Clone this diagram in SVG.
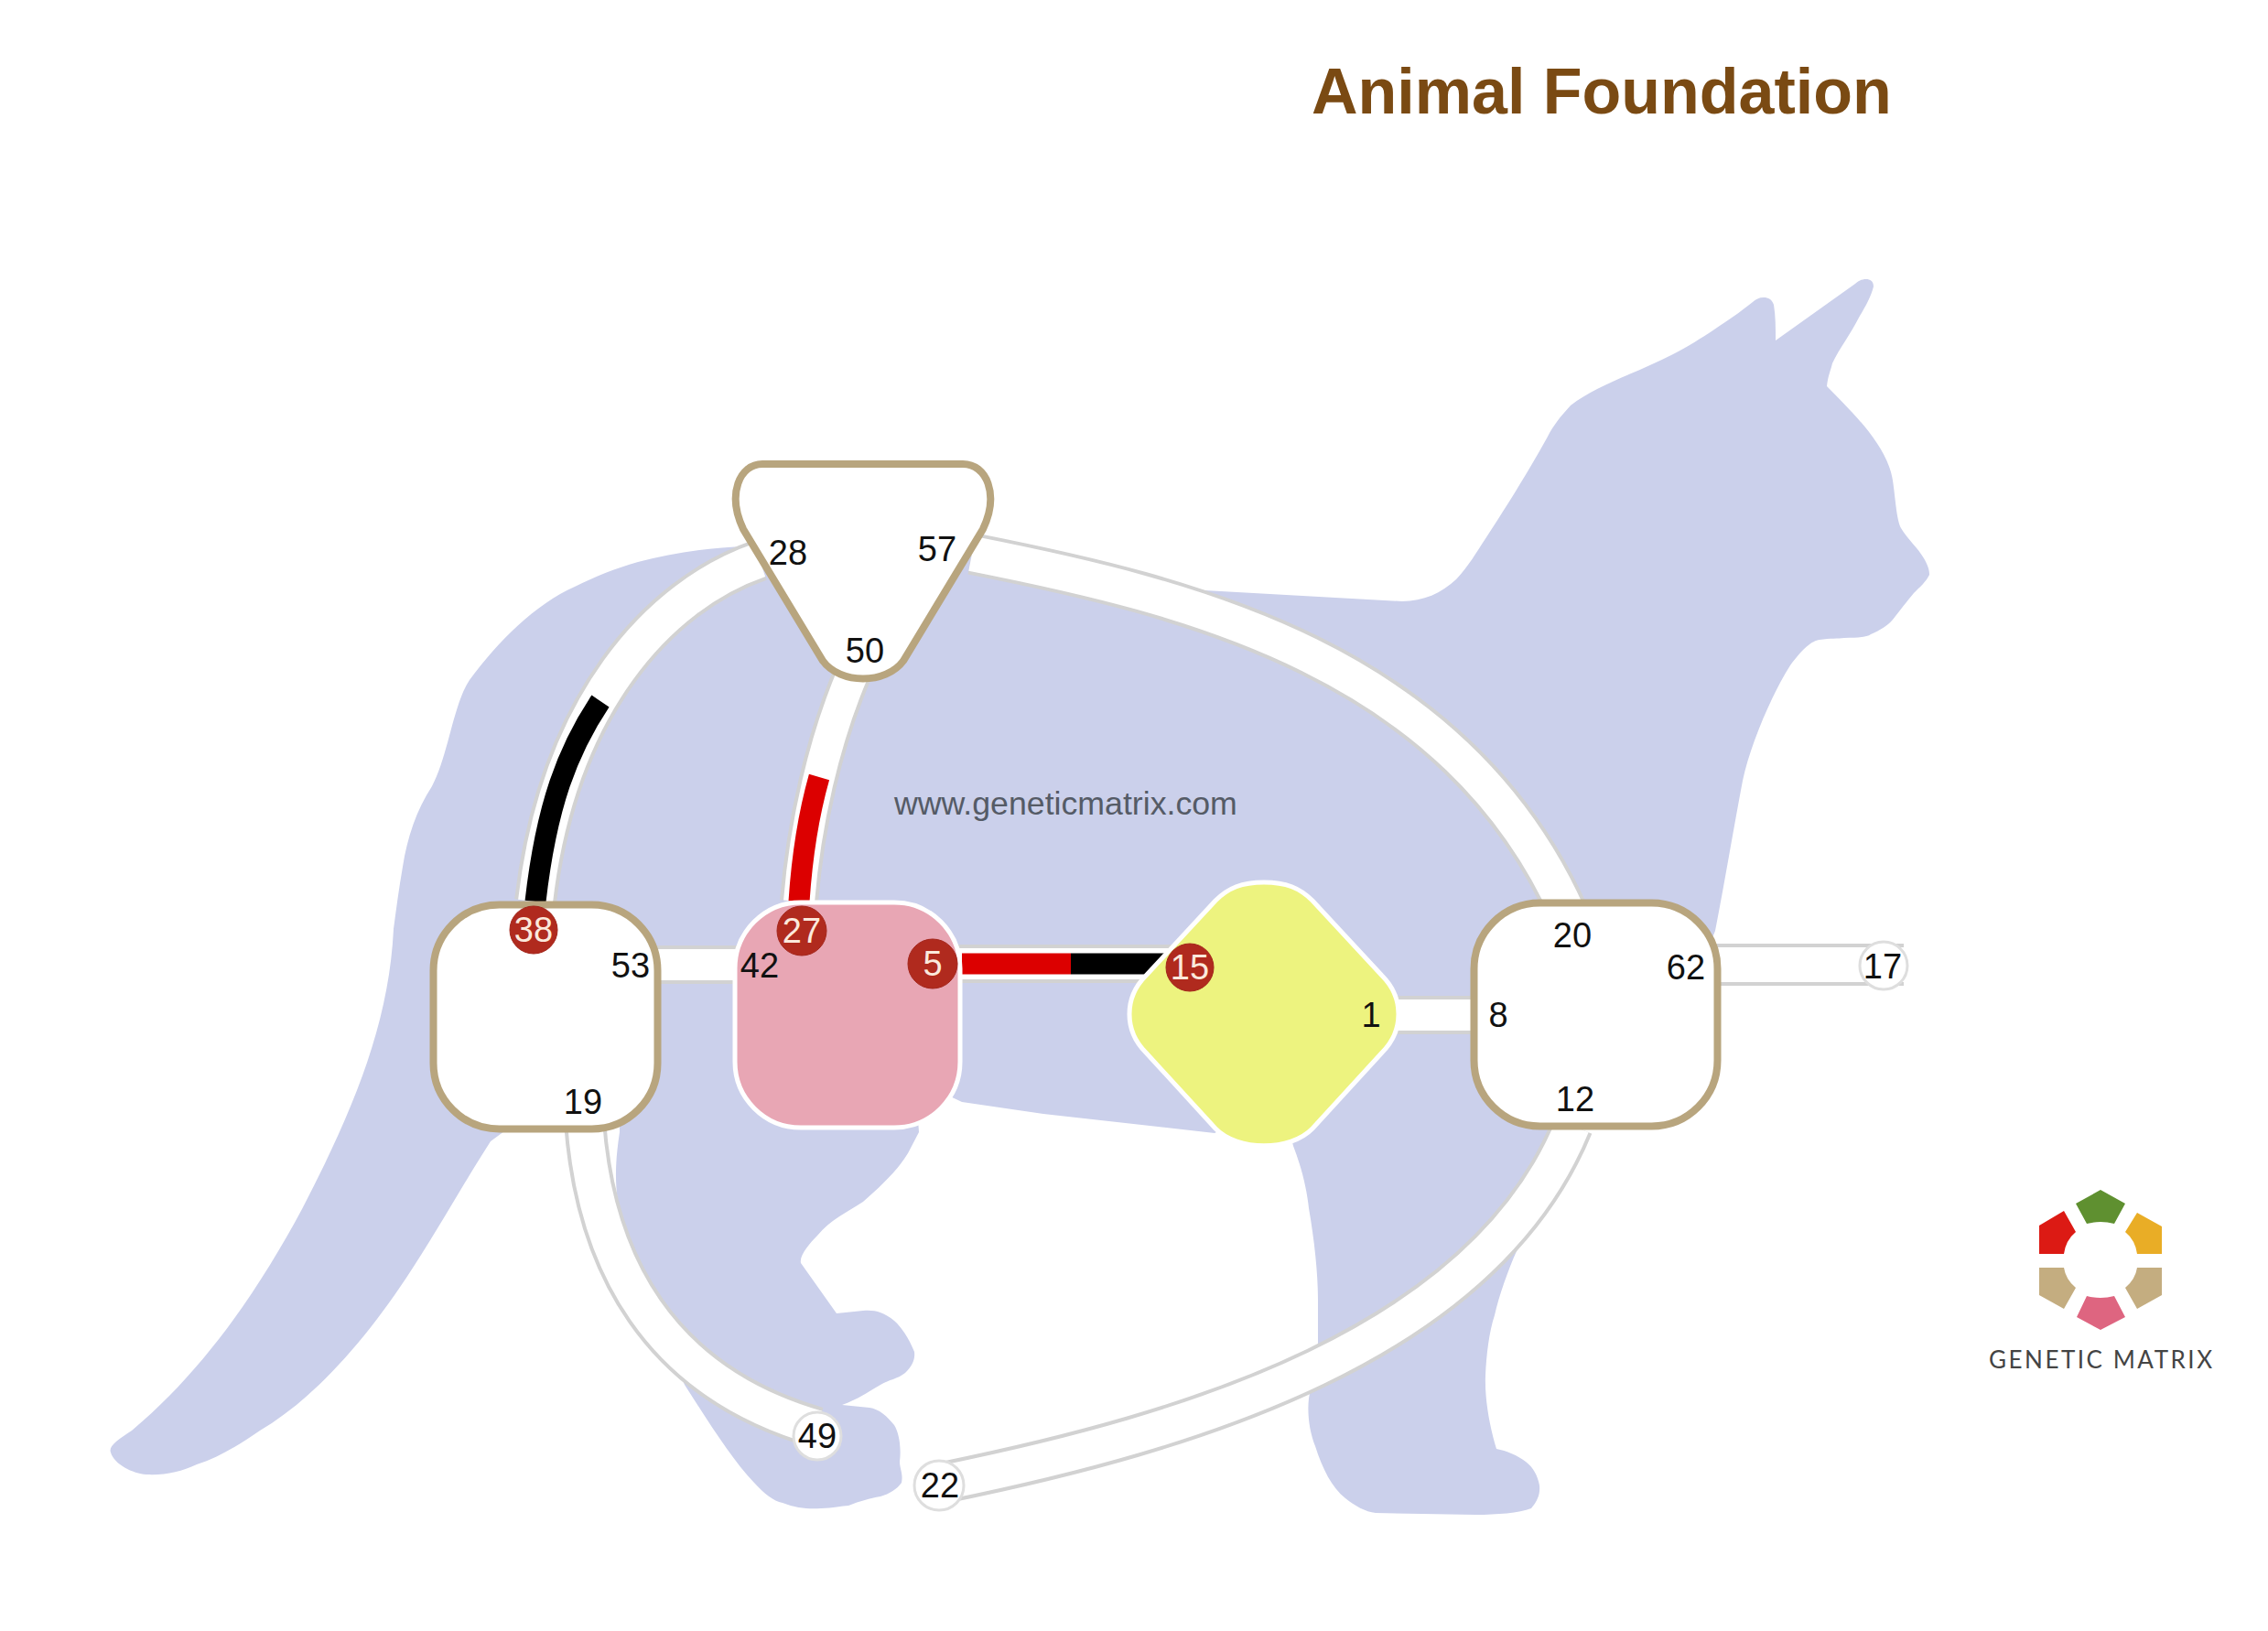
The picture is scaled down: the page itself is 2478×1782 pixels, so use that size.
<svg xmlns="http://www.w3.org/2000/svg" width="2478" height="1782" viewBox="0 0 2478 1782">
<style>
text{font-family:"Liberation Sans",Arial,sans-serif}
.n{font-size:38px;fill:#111;text-anchor:middle}
.d{font-size:38px;fill:#FBE9DC;text-anchor:middle}
.dot{fill:#B02A1E;stroke:#A3261B;stroke-width:1}
.pin{fill:#fff;stroke:#DEDEDE;stroke-width:3}
.box{fill:#fff;stroke:#B8A57E;stroke-width:8}
.e{fill:none;stroke:#D2D2D2;stroke-width:46}
.w{fill:none;stroke:#fff;stroke-width:38}
.e2{fill:none;stroke:#D2D2D2;stroke-width:42}
.w2{fill:none;stroke:#fff;stroke-width:34}
.p{fill:none;stroke-width:23}
.red{stroke:#DC0000}
.blk{stroke:#000}
</style>
<path id="cat" fill="#CBD0EB" d="M816,597 C775,598 735,604 697,614 C672,621 650,630 628,641 C585,660 545,700 513,743 C495,770 490,825 472,859 C455,885 445,915 440,947 C436,970 433,992 430,1015 C425,1120 385,1215 330,1321 C285,1405 225,1495 144,1563 C130,1572 118,1580 121,1587 C125,1600 145,1610 160,1611 C180,1612 198,1608 215,1600 C240,1592 262,1578 284,1563 C340,1530 395,1470 444,1396 C475,1350 505,1295 536,1247 L600,1200 L677,1200 L677,1237 C672,1270 672,1290 675,1313 C680,1345 688,1375 700,1400 L748,1513 C775,1555 800,1595 824,1620 C835,1632 845,1640 855,1642 C870,1648 885,1649 897,1648 C910,1648 920,1645 927,1645 C940,1640 950,1637 962,1635 C972,1632 980,1627 985,1620 C987,1610 983,1605 983,1597 C985,1580 982,1565 977,1557 C970,1548 960,1539 950,1538 L920,1535 C935,1530 950,1520 962,1513 C972,1507 980,1507 989,1500 C997,1492 1000,1485 999,1477 C993,1462 985,1450 977,1443 C965,1433 955,1431 943,1432 L914,1435 L875,1380 C873,1372 885,1358 893,1350 C908,1332 925,1325 943,1313 C960,1298 980,1280 992,1260 L1004,1237 L1000,1180 L1051,1204 L1140,1217 L1327,1238 L1400,1200 L1413,1252 C1422,1275 1428,1300 1430,1320 C1436,1355 1440,1390 1440,1420 L1440,1470 L1430,1528 C1428,1545 1431,1565 1437,1580 C1445,1605 1455,1625 1470,1637 C1480,1645 1492,1652 1503,1653 L1613,1655 C1635,1655 1660,1653 1673,1648 C1680,1640 1683,1632 1682,1623 C1680,1612 1675,1603 1667,1597 C1658,1590 1646,1585 1635,1583 C1628,1560 1622,1530 1623,1503 C1624,1480 1627,1455 1633,1437 C1638,1415 1648,1387 1657,1367 L1690,1280 L1720,1230 L1800,1200 L1874,1017 C1885,960 1895,900 1904,853 C1912,815 1935,760 1956,727 C1970,708 1980,700 1988,699 C2000,697 2008,698 2015,697 C2030,697 2040,696 2044,693 C2055,688 2062,684 2068,677 C2075,668 2085,655 2091,648 C2097,642 2105,635 2108,628 C2108,622 2106,617 2102,610 C2095,598 2085,590 2077,577 C2072,567 2071,545 2068,525 C2062,485 2020,447 1996,422 C1997,412 2000,405 2002,397 C2010,380 2022,365 2031,347 C2038,335 2044,325 2047,313 C2047,307 2043,305 2039,305 C2034,305 2030,307 2027,310 L1940,372 C1940,358 1940,345 1938,333 C1936,327 1932,325 1927,325 C1922,325 1918,327 1915,330 C1900,342 1888,350 1873,360 C1858,370 1845,378 1828,387 C1790,407 1745,420 1716,443 C1705,455 1697,465 1691,477 C1670,515 1645,555 1624,587 C1612,605 1605,618 1591,633 C1575,648 1555,657 1532,657 L1316,645 L1300,662 L1060,606 L940,600 Z"/>
<g id="connectors">
<path class="e" d="M830,612 C720,650 610,770 585,985"/>
<path class="w" d="M830,612 C720,650 610,770 585,985"/>
<path class="p blk" d="M585,985 C597,880 620,820 656,766"/>
<path class="e2" d="M932,735 C900,810 880,900 873,985"/>
<path class="w2" d="M932,735 C900,810 880,900 873,985"/>
<path class="p red" d="M873,985 C876,940 882,895 895,849"/>
<path class="e" d="M1062,605 C1300,652 1590,722 1714,1000"/>
<path class="w" d="M1062,605 C1300,652 1590,722 1714,1000"/>
<path class="e2" d="M715,1054 H810"/>
<path class="w2" d="M715,1054 H810"/>
<path class="e2" d="M1045,1053 H1285"/>
<path class="w2" d="M1045,1053 H1285"/>
<path class="p red" d="M1051,1053 H1170"/>
<path class="p blk" d="M1170,1053 H1285"/>
<path class="e2" d="M1520,1109 H1612"/>
<path class="w2" d="M1520,1109 H1612"/>
<path class="e" d="M1875,1054 H2080"/>
<path class="w" d="M1875,1054 H2080"/>
<path class="e" d="M639,1225 C650,1380 720,1510 893,1560"/>
<path class="w" d="M639,1225 C650,1380 720,1510 893,1560"/>
<path class="e" d="M1030,1620 C1300,1565 1620,1470 1718,1230"/>
<path class="w" d="M1030,1620 C1300,1565 1620,1470 1718,1230"/>
</g>
<g id="node-triangle">
<path class="box" d="M833,507 L1052,507 C1078,507 1092,540 1074,578 L987,722 C968,748 918,748 899,722 L812,578 C794,540 808,507 833,507Z"/>
<text class="n" x="861" y="617">28</text>
<text class="n" x="1024" y="613">57</text>
<text class="n" x="945" y="724">50</text>
</g>
<g id="node-left">
<rect class="box" x="473.500" y="988.500" width="245" height="245" rx="72"/>
<circle class="dot" cx="583" cy="1016" r="26"/>
<text class="d" x="583" y="1029">38</text>
<text class="n" x="689" y="1068">53</text>
<text class="n" x="637" y="1217">19</text>
</g>
<g id="node-pink">
<rect x="803" y="986" width="246" height="246" rx="72" fill="#E8A6B4" stroke="#fff" stroke-width="5"/>
<circle class="dot" cx="876" cy="1017" r="27"/>
<text class="d" x="876" y="1030">27</text>
<circle class="dot" cx="1019" cy="1053" r="27"/>
<text class="d" x="1019" y="1066">5</text>
<text class="n" x="830" y="1068">42</text>
</g>
<g id="node-diamond">
<path fill="#EDF37F" stroke="#fff" stroke-width="5" d="M1381,964 C1405,964 1420,970 1434,984 L1510,1066 C1534,1090 1534,1126 1510,1150 L1434,1233 C1410,1258 1352,1258 1328,1233 L1252,1150 C1228,1126 1228,1090 1252,1066 L1328,984 C1342,970 1357,964 1381,964Z"/>
<circle class="dot" cx="1300" cy="1057" r="26"/>
<text class="d" x="1300" y="1070">15</text>
<text class="n" x="1498" y="1122">1</text>
</g>
<g id="node-right">
<rect class="box" x="1610.500" y="986.500" width="266" height="244" rx="72"/>
<text class="n" x="1718" y="1035">20</text>
<text class="n" x="1842" y="1070">62</text>
<text class="n" x="1637" y="1122">8</text>
<text class="n" x="1721" y="1214">12</text>
</g>
<g id="node-17">
<circle class="pin" cx="2058" cy="1055" r="26"/>
<text class="n" x="2057" y="1069">17</text>
</g>
<g id="node-49">
<circle class="pin" cx="893" cy="1569" r="26"/>
<text class="n" x="893" y="1582">49</text>
</g>
<g id="node-22">
<circle class="pin" cx="1026" cy="1623" r="27"/>
<text class="n" x="1027" y="1636">22</text>
</g>
<text x="1433" y="124" font-size="70" font-weight="700" fill="#7A4A13">Animal Foundation</text>
<text x="977" y="890" font-size="35.700" fill="#555B66">www.geneticmatrix.com</text>
<g id="logo">
<path fill="#5F9030" d="M2295,1300 L2322,1315 L2310,1337 Q2295,1333 2280,1337 L2268,1315Z"/>
<path fill="#E9AD26" d="M2335,1325 L2362,1340 V1370 H2335 Q2333,1355 2322,1346Z"/>
<path fill="#DC1A14" d="M2255,1323 L2228,1339 V1370 H2255 Q2257,1355 2268,1346Z"/>
<path fill="#C4AD80" d="M2228,1385 H2255 Q2257,1398 2268,1407 L2255,1430 L2228,1415Z"/>
<path fill="#C4AD80" d="M2362,1385 H2335 Q2333,1398 2322,1407 L2335,1430 L2362,1415Z"/>
<path fill="#DE6580" d="M2280,1416 Q2295,1420 2310,1416 L2322,1439 L2295,1453 L2269,1439Z"/>
<text x="2173" y="1495" font-size="26" fill="#444" textLength="244" style="font-family:Lato,'Liberation Sans',sans-serif">GENETIC MATRIX</text>
</g>
</svg>
